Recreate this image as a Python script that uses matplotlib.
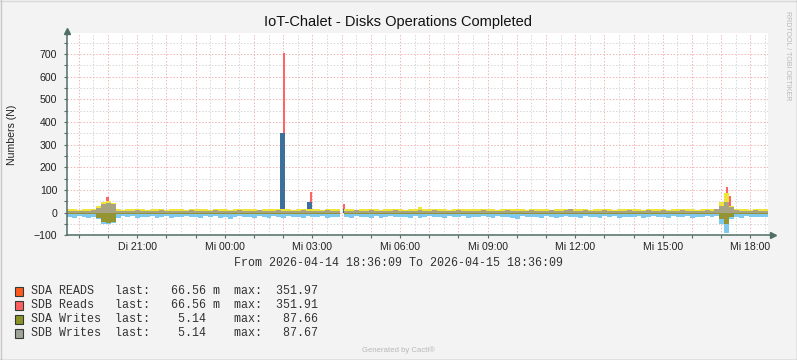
import numpy as np
import matplotlib
matplotlib.use("Agg")
import matplotlib.pyplot as plt
from matplotlib.lines import Line2D
from matplotlib.patches import Rectangle

# graph window: 24 h starting at this clock time, write samples every 10 min
start_clock = "18:36"
step_min = 10

# write activity (positive side), one value per 10 min step
yellow_top = [14, 16, 13, 15, 17, 14, 28, 45, 50, 42, 15, 13,
              16, 14, 15, 17, 13, 16, 14, 15, 13, 17, 15, 14,
              13, 16, 15, 14, 17, 13, 15, 16, 14, 13, 16, 15,
              14, 17, 15, 13, 16, 14, 15, 18, 14, 15, 13, 16,
              15, 14, 17, 15, 13, 16, 14, 15, 0, 16, 14, 13,
              15, 17, 14, 16, 13, 15, 14, 16, 15, 13, 17, 14,
              26, 15, 17, 14, 16, 15, 13, 18, 14, 16, 15, 14,
              17, 14, 15, 16, 13, 15, 17, 14, 16, 15, 13, 16,
              14, 15, 17, 13, 16, 14, 15, 18, 16, 14, 15, 13,
              16, 15, 14, 17, 13, 15, 16, 14, 15, 17, 13, 16,
              15, 14, 16, 13, 17, 15, 14, 16, 15, 13, 16, 14,
              15, 16, 45, 88, 30, 15, 14, 16, 13, 15, 17, 14]
grey_top = [8, 9, 7, 9, 8, 10, 22, 40, 43, 38, 9, 8,
            9, 8, 10, 8, 7, 9, 8, 10, 8, 9, 7, 9,
            8, 10, 9, 7, 8, 9, 10, 8, 9, 7, 8, 10,
            9, 8, 7, 10, 9, 8, 9, 10, 8, 7, 9, 8,
            10, 8, 9, 7, 8, 10, 9, 8, 0, 9, 8, 10,
            8, 9, 10, 8, 7, 9, 8, 10, 9, 8, 7, 9,
            12, 8, 9, 10, 8, 7, 9, 8, 10, 9, 8, 7,
            9, 10, 8, 7, 9, 8, 10, 9, 8, 7, 9, 10,
            8, 9, 7, 10, 8, 9, 10, 16, 9, 8, 10, 7,
            9, 8, 10, 9, 7, 8, 9, 10, 8, 9, 7, 10,
            8, 9, 10, 7, 8, 9, 10, 8, 7, 9, 8, 10,
            9, 14, 30, 45, 25, 10, 8, 9, 7, 10, 8, 9]
# write activity (negative side)
olive_bot = [-5, -4, -6, -5, -4, -6, -25, -42, -45, -40, -6, -5,
             -4, -6, -5, -5, -7, -4, -5, -6, -4, -5, -6, -5,
             -5, -4, -6, -5, -4, -5, -6, -4, -5, -7, -5, -4,
             -6, -5, -4, -5, -6, -4, -5, -5, -6, -4, -5, -6,
             -4, -5, -6, -5, -4, -6, -5, -4, 0, -5, -6, -4,
             -5, -4, -6, -5, -5, -4, -6, -5, -4, -6, -5, -4,
             -8, -5, -4, -6, -5, -4, -5, -6, -4, -5, -6, -5,
             -4, -6, -5, -4, -5, -6, -4, -5, -6, -4, -5, -5,
             -6, -4, -5, -5, -4, -6, -5, -7, -4, -5, -6, -4,
             -5, -6, -4, -5, -5, -4, -6, -5, -4, -6, -5, -4,
             -5, -4, -6, -5, -4, -6, -5, -4, -5, -6, -4, -5,
             -6, -8, -30, -50, -20, -5, -4, -6, -5, -4, -5, -6]
blue_bot = [-18, -22, -16, -20, -24, -19, -30, -48, -52, -45, -22, -17,
            -20, -16, -23, -18, -21, -15, -24, -19, -17, -22, -20, -18,
            -16, -21, -19, -24, -17, -20, -15, -22, -18, -26, -19, -16,
            -21, -18, -23, -16, -20, -25, -17, -19, -22, -16, -20, -18,
            -24, -17, -19, -21, -16, -22, -18, -20, 0, -19, -23, -16,
            -20, -18, -22, -17, -24, -19, -16, -21, -18, -20, -23, -17,
            -22, -19, -16, -21, -18, -24, -17, -20, -19, -16, -22, -18,
            -21, -17, -19, -23, -16, -20, -18, -22, -26, -17, -19, -21,
            -18, -22, -16, -20, -24, -19, -17, -21, -18, -23, -16, -20,
            -19, -22, -17, -20, -16, -24, -18, -21, -19, -17, -22, -20,
            -16, -21, -18, -23, -17, -20, -19, -16, -22, -18, -21, -17,
            -20, -15, -50, -90, -30, -19, -22, -17, -20, -18, -21, -19]

# read bursts (5 min samples), sdb stacked on sda
read_times = ["19:57", "20:07", "01:54", "01:59", "02:50", "02:55", "04:03", "17:09", "17:14"]
sda_reads = [0, 0, 352, 352, 48, 48, 15, 0, 0]
sdb_reads = [68, 28, 0, 352, 0, 45, 23, 115, 75]

tick_labels = ["Di 21:00", "Mi 00:00", "Mi 03:00", "Mi 06:00",
               "Mi 09:00", "Mi 12:00", "Mi 15:00", "Mi 18:00"]
y_ticks = [-100, 0, 100, 200, 300, 400, 500, 600, 700]

legend_names = ["SDA READS", "SDB Reads", "SDA Writes", "SDB Writes"]
legend_colors = ["#FF5A1E", "#FF5F5F", "#8E9126", "#A2A398"]
last_num = [66.56, 66.56, 5.14, 5.14]
last_unit = ["m", "m", "", ""]
max_num = [351.97, 351.91, 87.66, 87.67]

W, H = 797, 360
bg = "#F3F3F3"
axis_color = "#4F6E66"
text_color = "#222222"

plt.rcParams['font.family'] = ['Liberation Sans', 'DejaVu Sans']

sh, sm = start_clock.split(":")
start_minutes = int(sh) * 60 + int(sm)


def clock_to_hours(s):
    hh, mm = s.split(":")
    mins = int(hh) * 60 + int(mm) - start_minutes
    return (mins % 1440) / 60.0


def px(x, y):
    # pixel coords (y from top) to figure fraction
    return x / W, 1 - y / H


fig = plt.figure(figsize=(W / 100, H / 100), dpi=100, facecolor=bg)
ax = fig.add_axes([67 / W, 1 - 235.3 / H, (768 - 67) / W, (235.3 - 33) / H])
ax.set_facecolor("white")
ax.set_xlim(0, 24)
ax.set_ylim(-100, 792)

# grid
half_pos = [clock_to_hours("%02d:30" % h) for h in range(24)]
hour_pos = [clock_to_hours("%02d:00" % h) for h in range(24)]
grid_style = dict(lw=0.7, linestyle=(0, (1.5, 1.8)), zorder=1)
for v in half_pos:
    ax.axvline(v, color="#D6D6D6", **grid_style)
for v in hour_pos:
    ax.axvline(v, color="#F2B4B4", **grid_style)
for v in range(-50, 800, 100):
    ax.axhline(v, color="#D6D6D6", **grid_style)
for v in y_ticks[1:]:
    ax.axhline(v, color="#F2B4B4", **grid_style)

# reads
bar_w = 5 / 60
rx = [clock_to_hours(t) for t in read_times]
ax.bar(rx, sda_reads, width=bar_w, align='edge', color="#3D6E9C", lw=0, zorder=2)
ax.bar(rx, sdb_reads, width=bar_w, bottom=sda_reads, align='edge', color="#FF6464", lw=0, zorder=2)

# writes
n = len(yellow_top)
x = np.arange(n + 1) * step_min / 60
ext = lambda a: np.append(a, a[-1])
ax.fill_between(x, 0, ext(blue_bot), step='post', color="#80C9EE", lw=0, zorder=3)
ax.fill_between(x, ext(olive_bot), 0, step='post', color="#949433", lw=0, zorder=3)
ax.fill_between(x, 0, ext(yellow_top), step='post', color="#EEE43A", lw=0, zorder=3)
ax.fill_between(x, 0, ext(grey_top), step='post', color="#A6A282", lw=0, zorder=3)

# axes
for s in ["top", "right", "bottom", "left"]:
    ax.spines[s].set_visible(False)
ax.add_line(Line2D([0, 1.005], [0, 0], transform=ax.transAxes, color=axis_color,
                   lw=1.1, clip_on=False, zorder=5))
ax.add_line(Line2D([0, 0], [0, 1.0], transform=ax.transAxes, color=axis_color,
                   lw=1.1, clip_on=False, zorder=5))
ax.plot([1.007], [0], marker='>', ms=5, color=axis_color, transform=ax.transAxes,
        clip_on=False, zorder=6)
ax.plot([0], [1.012], marker='^', ms=5, color=axis_color, transform=ax.transAxes,
        clip_on=False, zorder=6)

ax.set_xticks([clock_to_hours(t.split()[1]) for t in tick_labels])
ax.set_xticklabels(tick_labels)
ax.set_xticks(hour_pos, minor=True)
ax.set_yticks(y_ticks)
ax.set_yticks(list(range(-50, 800, 100)), minor=True)
ax.tick_params(axis='both', which='both', length=2, width=0.8, color=axis_color,
               labelsize=7.6, labelcolor=text_color)
ax.tick_params(axis='y', pad=5)
ax.tick_params(axis='x', pad=2.5)

# texts
fig.text(*px(398, 22), "IoT-Chalet - Disks Operations Completed", ha='center', va='center',
         fontsize=10.5, color="#111111")
fig.text(*px(12, 135), "Numbers (N)", rotation=90, ha='center', va='center',
         fontsize=7.6, color=text_color)
fig.text(*px(787, 56), "RRDTOOL / TOBI OETIKER", rotation=270, ha='center', va='center',
         fontsize=5, color="#B8B8B8")
fig.text(*px(398, 263), "From 2026-04-14 18:36:09 To 2026-04-15 18:36:09", ha='center',
         va='center', family='Liberation Mono', fontsize=8.4, color="#333333")
fig.text(*px(398, 350), "Generated by Cacti\u00ae", ha='center', va='center',
         fontsize=5.6, color="#B8B8B8")

for i, name in enumerate(legend_names):
    yrow = 291 + 14 * i
    fig.add_artist(Rectangle(px(15, yrow + 4.5), 8 / W, 9 / H, transform=fig.transFigure,
                             facecolor=legend_colors[i], edgecolor="#2D3D35", lw=0.8))
    line = "%-12slast:   %5.2f %-1s  max:  %6.2f" % (name, last_num[i], last_unit[i], max_num[i])
    fig.text(*px(31, yrow), line, ha='left', va='center', family='Liberation Mono',
             fontsize=8.4, color="#333333")

# frame
fig.add_artist(Line2D([0, 1], [1 - 0.5 / H, 1 - 0.5 / H], transform=fig.transFigure, color="#D8D8D8", lw=1))
fig.add_artist(Line2D([0.5 / W, 0.5 / W], [0, 1], transform=fig.transFigure, color="#C8C8C8", lw=1))
fig.add_artist(Line2D([0, 1], [0.5 / H, 0.5 / H], transform=fig.transFigure, color="#999999", lw=1))
fig.add_artist(Line2D([1 - 0.5 / W, 1 - 0.5 / W], [0, 1], transform=fig.transFigure, color="#A8A8A8", lw=1))

fig.savefig("out.png", dpi=100, facecolor=bg)
